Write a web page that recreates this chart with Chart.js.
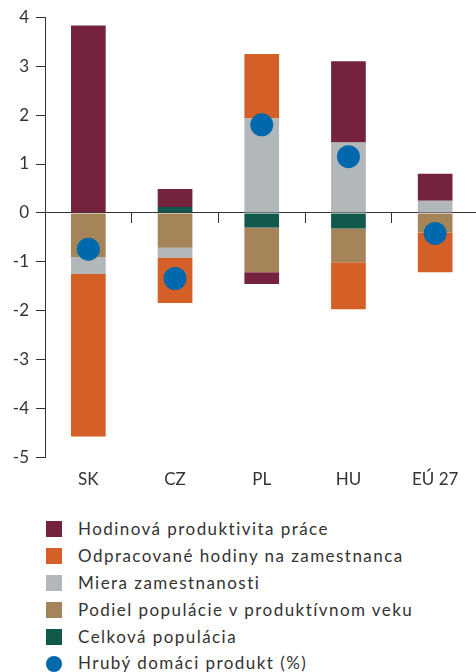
<!DOCTYPE html>
<html>
<head>
<meta charset="utf-8">
<script src="https://cdn.jsdelivr.net/npm/chart.js@4.4.1/dist/chart.umd.min.js"></script>
<style>
  body { margin: 0; background: #fff; overflow: hidden; }
  #wrap { width: 476px; height: 672px; overflow: hidden; position: relative; }
  #box { width: 490px; height: 505px; position: relative; }
  #legend { list-style: none; margin: 0; padding: 0; position: absolute; left: 46px; top: 516px;
    font-family: Lato, sans-serif; font-size: 17px; letter-spacing: 1.45px; color: #333; }
  #legend li { height: 26.9px; line-height: 26.9px; display: flex; align-items: center; white-space: nowrap; }
  #legend span.sw { width: 16px; height: 16px; margin-right: 16px; display: inline-block; }
</style>
</head>
<body>
<div id="wrap">
  <div id="box"><canvas id="chart" width="490" height="505"></canvas></div>
  <ul id="legend"></ul>
</div>
<script>
let categories = ["SK", "CZ", "PL", "HU", "EÚ 27"];

// rozklad rastu HDP (p. b.)
let celkovaPopulacia = [0, 0.12, -0.30, -0.32, 0];
let podielPopulacie = [-0.90, -0.71, -0.91, -0.69, -0.40];
let mieraZamestnanosti = [-0.35, -0.20, 1.93, 1.44, 0.25];
let odpracovaneHodiny = [-3.32, -0.93, 1.32, -0.96, -0.81];
let hodinovaProduktivita = [3.83, 0.37, -0.24, 1.66, 0.55];
let hdp = [-0.74, -1.34, 1.80, 1.15, -0.42];

let yTicks = [-5, -4, -3, -2, -1, 0, 1, 2, 3, 4];

let legendOrder = ["Hodinová produktivita práce", "Odpracované hodiny na zamestnanca",
    "Miera zamestnanosti", "Podiel populácie v produktívnom veku", "Celková populácia",
    "Hrubý domáci produkt (%)"];

let txt = "#333333";
let font = { family: "Lato, sans-serif", size: 17 };

function bar(label, data, color) {
    return { type: "bar", label: label, data: data, backgroundColor: color, borderWidth: 0, order: 1 };
}

let datasets = [
    bar("Celková populácia", celkovaPopulacia, "#11594c"),
    bar("Podiel populácie v produktívnom veku", podielPopulacie, "#a5845a"),
    bar("Miera zamestnanosti", mieraZamestnanosti, "#b2b7b9"),
    bar("Odpracované hodiny na zamestnanca", odpracovaneHodiny, "#d56027"),
    bar("Hodinová produktivita práce", hodinovaProduktivita, "#74223e"),
    {
        type: "line", label: "Hrubý domáci produkt (%)", data: hdp, showLine: false,
        stack: "hdp", order: 0, pointRadius: 11.5, pointHoverRadius: 11.5,
        backgroundColor: "#0068ac", borderColor: "#0068ac", borderWidth: 0
    }
];

let chart = new Chart(document.getElementById("chart"), {
    data: { labels: categories, datasets: datasets },
    options: {
        responsive: false,
        animation: false,
        devicePixelRatio: 1,
        layout: { padding: { top: 17, right: 8, bottom: 3, left: 0 } },
        datasets: { bar: { categoryPercentage: 1, barPercentage: 0.4 } },
        plugins: { legend: { display: false }, tooltip: { enabled: false } },
        scales: {
            x: {
                stacked: true,
                offset: true,
                grid: { display: false, drawTicks: false },
                border: { display: false },
                ticks: { color: txt, font: font, padding: 12, maxRotation: 0 }
            },
            x2: {
                type: "category",
                labels: categories,
                position: { y: 0 },
                offset: true,
                grid: { display: true, drawOnChartArea: false, drawTicks: true, tickLength: 10, offset: true, color: txt },
                border: { display: true, color: txt, width: 1 },
                ticks: { display: false }
            },
            y: {
                stacked: true,
                min: -5,
                max: 4,
                afterBuildTicks: function (scale) {
                    scale.ticks = yTicks.map(function (v) { return { value: v }; });
                },
                afterFit: function (scale) { scale.width = 45; },
                grid: { display: true, drawOnChartArea: false, drawTicks: true, tickLength: 9, color: txt },
                border: { display: true, color: txt },
                ticks: { color: txt, font: font, padding: 7 }
            }
        }
    }
});

// legenda ako zoznam pod grafom
let ul = document.getElementById("legend");
legendOrder.forEach(function (name) {
    let ds = datasets.find(function (d) { return d.label === name; });
    let li = document.createElement("li");
    let sw = document.createElement("span");
    sw.className = "sw";
    sw.style.background = ds.backgroundColor;
    if (ds.type === "line") sw.style.borderRadius = "50%";
    li.appendChild(sw);
    li.appendChild(document.createTextNode(name));
    ul.appendChild(li);
});
</script>
</body>
</html>
